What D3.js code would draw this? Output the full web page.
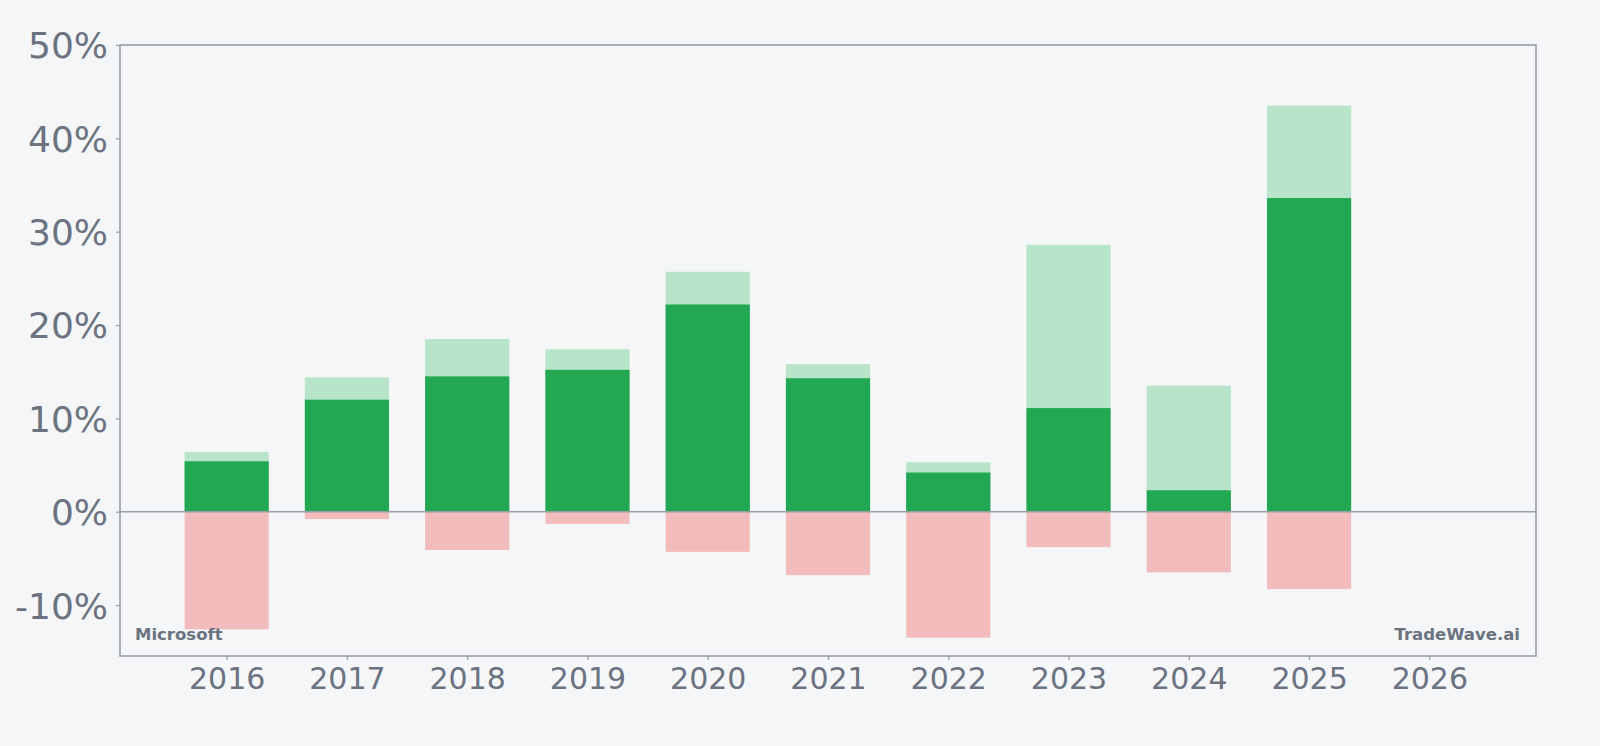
<!DOCTYPE html>
<meta charset="utf-8">
<style>
  body { margin: 0; background: #f4f6f8; }
  svg { display: block; }
  text { font-family: "DejaVu Sans"; }
</style>
<script src="https://cdn.jsdelivr.net/npm/d3@7"></script>
<body>
</body>
<script>

// yearly ranges, in percent
var years    = [2016, 2017, 2018, 2019, 2020, 2021, 2022, 2023, 2024, 2025];
var highs    = [6.4, 14.4, 18.5, 17.4, 25.7, 15.8, 5.3, 28.6, 13.5, 43.5];
var closes   = [5.4, 12.0, 14.5, 15.2, 22.2, 14.3, 4.2, 11.1, 2.3, 33.6];
var lows     = [-12.6, -0.8, -4.1, -1.3, -4.3, -6.8, -13.5, -3.8, -6.5, -8.3];
var xTicks   = [2016, 2017, 2018, 2019, 2020, 2021, 2022, 2023, 2024, 2025, 2026];
var yTicks   = [-10, 0, 10, 20, 30, 40, 50];

const width  = 1600;
const height = 746;

var padL = 120, padR = 1536, padT = 45, padB = 656;

var xScale = d3.scaleLinear().domain([2015.113, 2026.887]).range([padL, padR]);
var yScale = d3.scaleLinear().domain([-15.46, 50]).range([padB, padT]);

var barW = xScale(0.7) - xScale(0);

var gray = "#9a9ea9";
var textGray = "#6b7280";

var svg = d3.select("body").append("svg")
  .attr("width", width)
  .attr("height", height);

svg.append("rect")
  .attr("width", width).attr("height", height)
  .attr("fill", "#f4f6f8");

var rows = years.map((y, i) => ({ year: y, high: highs[i], close: closes[i], low: lows[i] }));

var plot = svg.append("g");

// light bar = best point of the year
plot.selectAll(".high")
  .data(rows)
  .enter()
  .append("rect")
    .attr("x", d => xScale(d.year) - barW / 2)
    .attr("y", d => yScale(d.high))
    .attr("width", barW)
    .attr("height", d => yScale(0) - yScale(d.high))
    .attr("fill", "#b8e4c9");

plot.selectAll(".close")
  .data(rows)
  .enter()
  .append("rect")
    .attr("x", d => xScale(d.year) - barW / 2)
    .attr("y", d => yScale(d.close))
    .attr("width", barW)
    .attr("height", d => yScale(0) - yScale(d.close))
    .attr("fill", "#22a752");

plot.selectAll(".low")
  .data(rows)
  .enter()
  .append("rect")
    .attr("x", d => xScale(d.year) - barW / 2)
    .attr("y", yScale(0))
    .attr("width", barW)
    .attr("height", d => yScale(d.low) - yScale(0))
    .attr("fill", "#f3bcbc");

// zero line
plot.append("line")
  .attr("x1", padL).attr("x2", padR)
  .attr("y1", yScale(0)).attr("y2", yScale(0))
  .attr("stroke", gray)
  .attr("stroke-width", 1.6);

// axes
var yAxis = svg.append("g")
  .attr("transform", `translate(${padL},0)`)
  .call(d3.axisLeft(yScale).tickValues(yTicks).tickSize(4).tickPadding(8).tickFormat(d => d + "%"));

var xAxis = svg.append("g")
  .attr("transform", `translate(0,${padB})`)
  .call(d3.axisBottom(xScale).tickValues(xTicks).tickSize(4).tickPadding(8).tickFormat(d3.format("d")));

yAxis.selectAll("text")
  .attr("fill", textGray)
  .style("font-family", "DejaVu Sans")
  .style("font-size", "36px")
  .attr("dy", "0.36em");
xAxis.selectAll("text")
  .attr("fill", textGray)
  .style("font-family", "DejaVu Sans")
  .style("font-size", "30px");

[yAxis, xAxis].forEach(a => {
  a.select(".domain").remove();
  a.selectAll("line").attr("stroke", gray).attr("stroke-width", 1.3);
});

// frame
svg.append("rect")
  .attr("x", padL).attr("y", padT)
  .attr("width", padR - padL).attr("height", padB - padT)
  .attr("fill", "none")
  .attr("stroke", gray)
  .attr("stroke-width", 1.6);

svg.append("text")
  .attr("x", 135).attr("y", 640)
  .attr("fill", textGray)
  .style("font-size", "16.5px")
  .style("font-weight", "bold")
  .text("Microsoft");

svg.append("text")
  .attr("x", 1520).attr("y", 640)
  .attr("text-anchor", "end")
  .attr("fill", textGray)
  .style("font-size", "16.5px")
  .style("font-weight", "bold")
  .text("TradeWave.ai");

</script>
